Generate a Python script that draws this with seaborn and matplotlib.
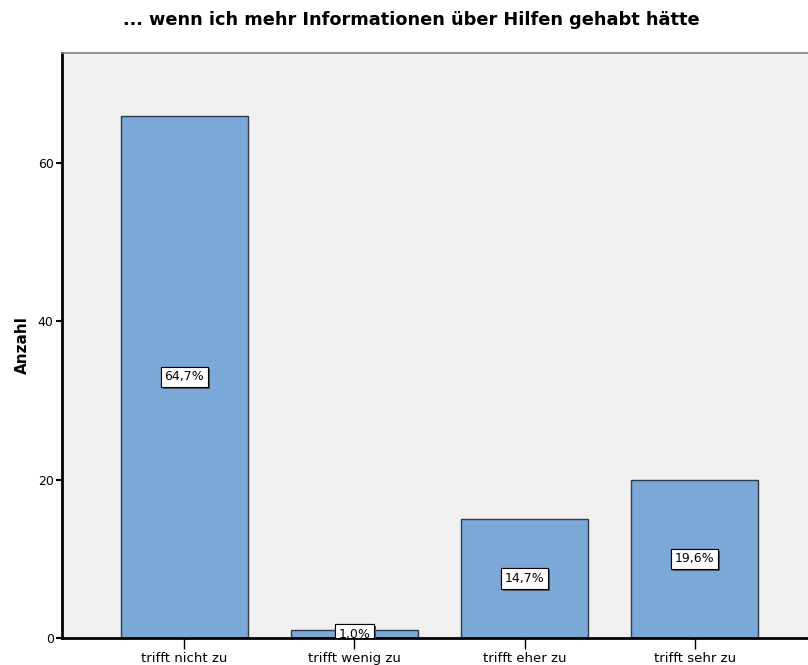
import pandas as pd
import seaborn as sns
from matplotlib import pyplot as plt
from matplotlib import patheffects as pe

title = '... wenn ich mehr Informationen über Hilfen gehabt hätte'
categories = ['trifft nicht zu', 'trifft wenig zu', 'trifft eher zu', 'trifft sehr zu']
counts = [66, 1, 15, 20]
percentLabels = ['64,7%', '1,0%', '14,7%', '19,6%']
yTicks = [0, 20, 40, 60]

df = pd.DataFrame({'Kategorie': categories, 'Anzahl': counts})

sns.set_style('white')
plt.rcParams['font.family'] = ['DejaVu Sans']
plt.rcParams['text.color'] = 'black'
plt.rcParams['axes.labelcolor'] = 'black'
plt.rcParams['xtick.color'] = 'black'
plt.rcParams['ytick.color'] = 'black'

fig = plt.figure(figsize=(8.08, 6.65), dpi=100)
ax = fig.add_axes([62 / 808, 27 / 665, 755 / 808, 585 / 665])
ax.set_facecolor('#F0F0F0')

sns.barplot(data=df, x='Kategorie', y='Anzahl', color='#7BA8D6', saturation=1,
            width=0.75, edgecolor='#2E3B4A', linewidth=1.0, ax=ax)

for i, (val, lab) in enumerate(zip(counts, percentLabels)):
    t = ax.text(i, val / 2, lab, ha='center', va='center', fontsize=9,
                bbox=dict(boxstyle='square,pad=0.3', fc='white', ec='black', lw=0.8),
                clip_on=True, zorder=5)
    t.get_bbox_patch().set_path_effects([pe.withSimplePatchShadow(offset=(1.5, -1.5), shadow_rgbFace='#4A5A6A', alpha=1), pe.Normal()])

ax.set_xlim(-0.72, 3.72)
ax.set_ylim(0, 73.9)
ax.set_yticks(yTicks)
ax.set_xlabel('')
ax.set_ylabel('Anzahl', fontsize=11, fontweight='bold', labelpad=6)
ax.tick_params(axis='y', direction='out', length=4, width=1.5, labelsize=9, pad=2, left=True)
ax.tick_params(axis='x', direction='out', length=8, width=1, labelsize=9.5, pad=2, bottom=True)

for side in ['left', 'bottom']:
    ax.spines[side].set_color('black')
    ax.spines[side].set_linewidth(2)
for side in ['top', 'right']:
    ax.spines[side].set_color('#808080')
    ax.spines[side].set_linewidth(1.2)

fig.text(411 / 808, 1 - 20 / 665, title, ha='center', va='center', fontsize=12.8, fontweight='bold')

fig.savefig('out.png', dpi=100)
